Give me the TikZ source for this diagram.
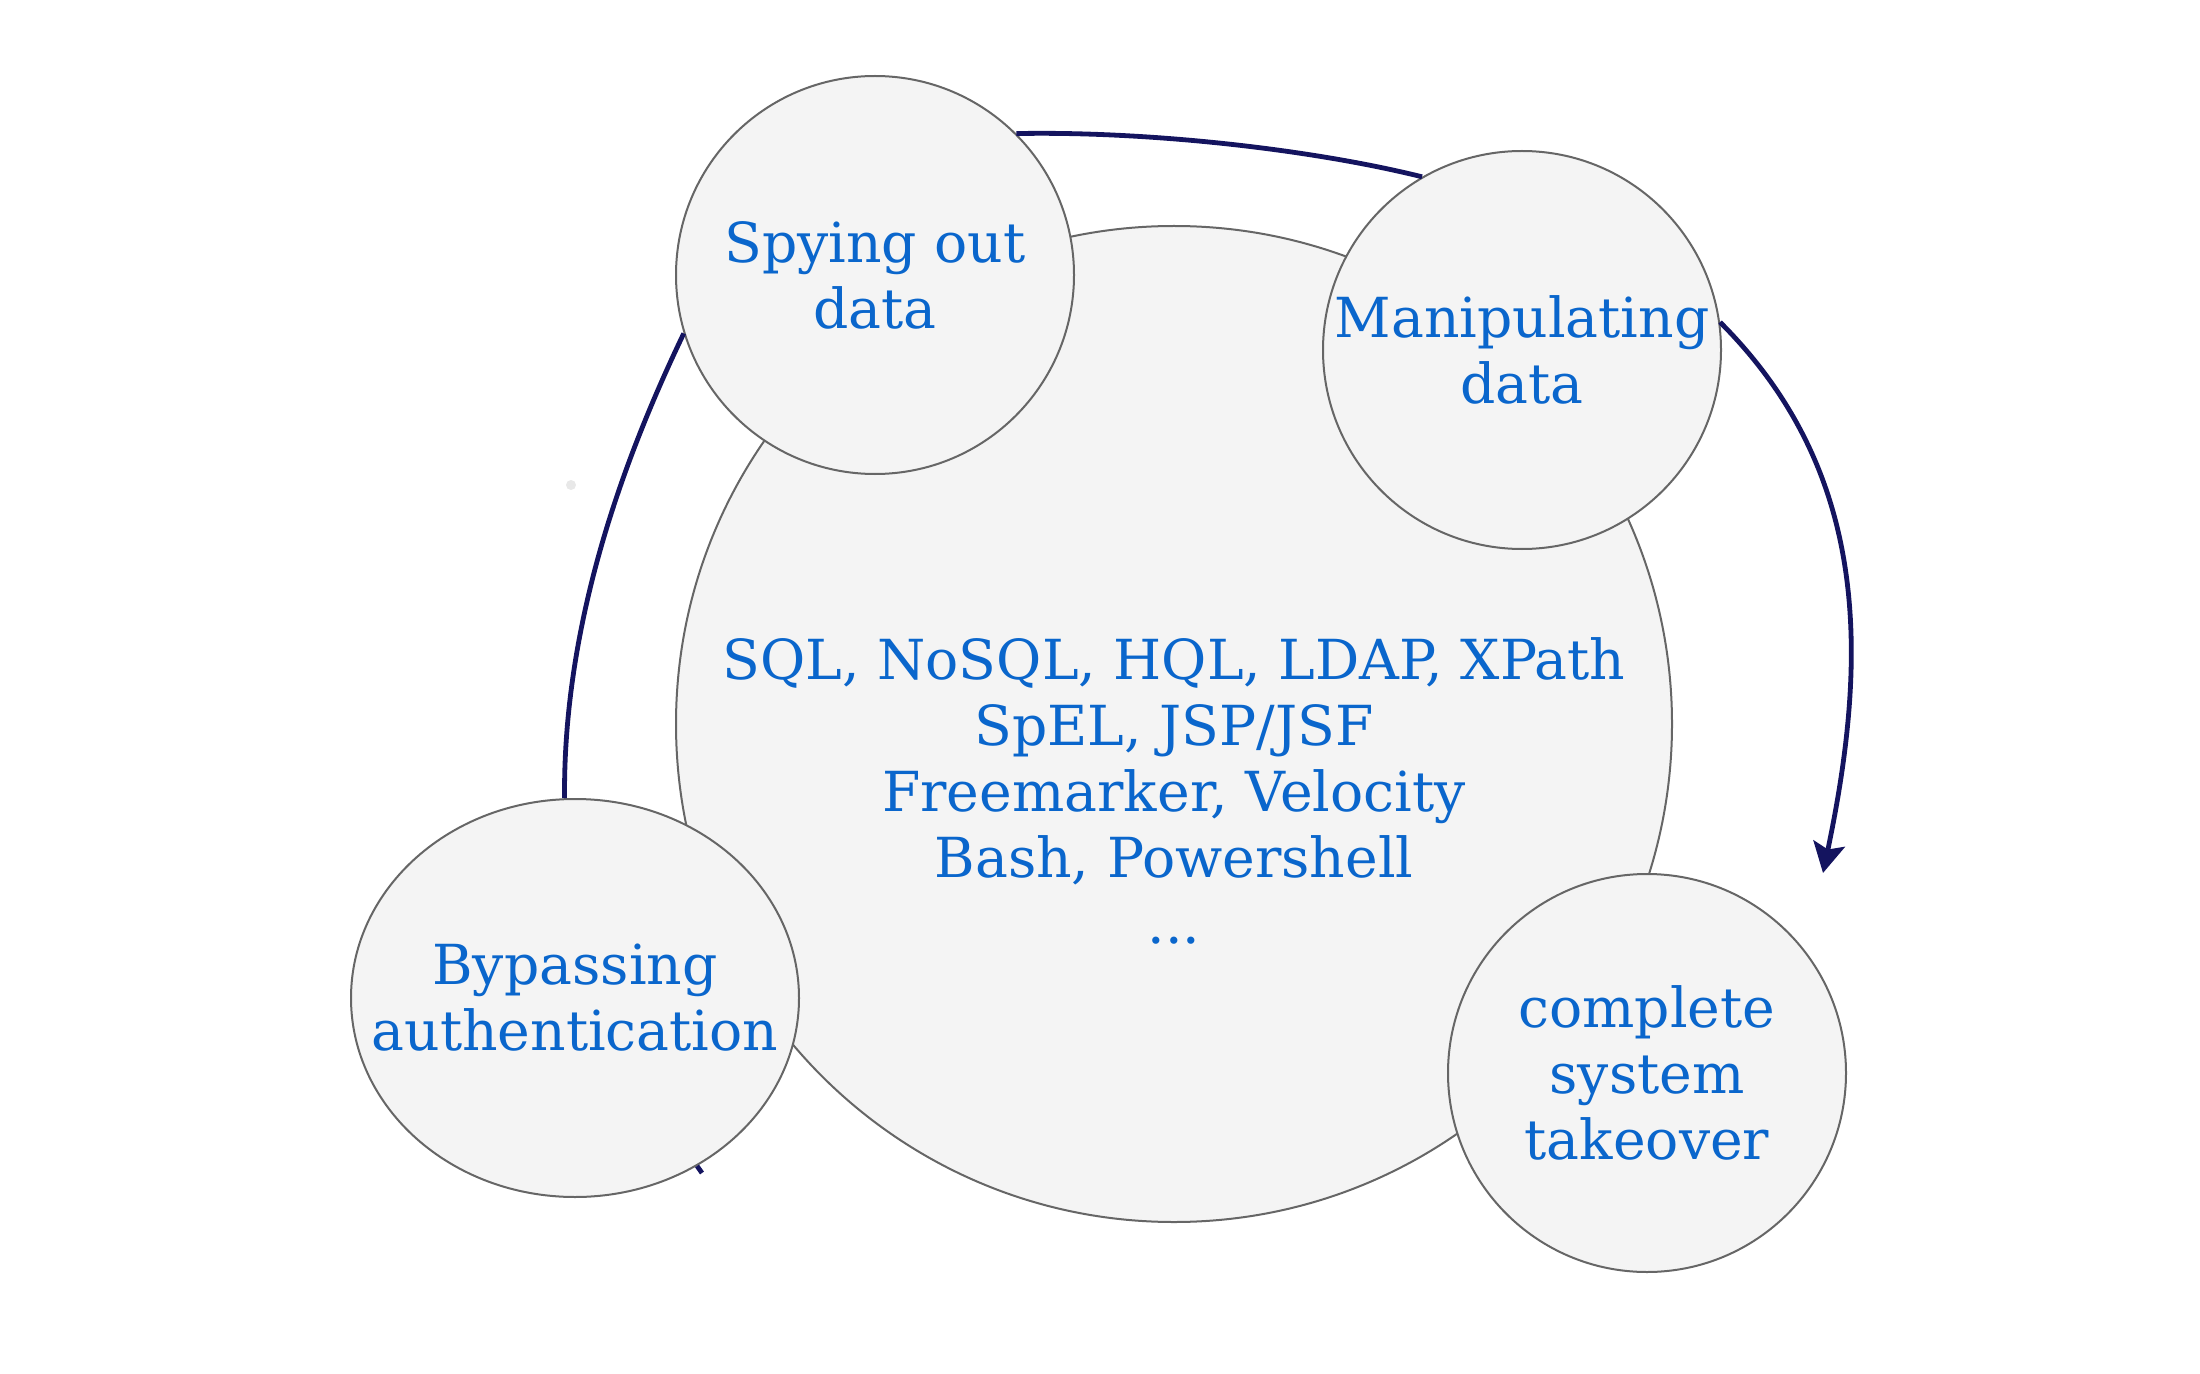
\documentclass[tikz,border=0pt]{standalone}
\usepackage{fontspec}
\setmainfont{DejaVu Serif}
\usetikzlibrary{arrows.meta}
\usetikzlibrary{shapes.geometric}
\definecolor{bubblefill}{HTML}{F4F4F4}
\definecolor{bubbleline}{HTML}{666666}
\definecolor{labelblue}{HTML}{0A66CC}
\definecolor{linknavy}{HTML}{14145F}
\tikzset{
    bubbletext/.style={
        align=center, text=labelblue, font=\fontsize{27.6}{33}\selectfont
    },
    bubble/.style={
        circle, draw=bubbleline, fill=bubblefill, line width=1pt,
        minimum size=199pt, inner sep=0pt, bubbletext
    },
    link/.style={
        draw=linknavy, line width=2.4pt
    }
}

\begin{document}
\begin{tikzpicture}[x=0.5pt, y=-0.5pt]
	\useasboundingbox (0,0) rectangle (2200,1374);
	
	\fill[black!9] (571,485) circle (5);
	
	\node[bubble, minimum size=498pt] (core) at (1174,724) {};
	\node[bubbletext] (langs) at (1174,791)
		{SQL, NoSQL, HQL, LDAP, XPath\\SpEL, JSP/JSF\\Freemarker, Velocity\\Bash, Powershell\\...};
	
	\node[bubble] (spy) at (875,275) {Spying out\\data};
	\node[bubble] (manip) at (1522,350) {Manipulating\\data};
	\node[bubble] (takeover) at (1647,1073) {complete\\system\\takeover};
	\node[bubble, ellipse, minimum width=224pt, minimum height=199pt,
		label={[bubbletext]center:{Bypassing\\authentication}}] (bypass) at (575,998) {};
	
	\coordinate (tip) at (1823,873);
	\coordinate (stub) at (702,1173);
	
	\draw[link] (spy.45) .. controls (1147,131) and (1310,149) .. (manip.120);
	\draw[link, -{Stealth[length=15pt, width=16pt, inset=3pt]}] (manip.8) .. controls (1871,473) and (1868,658) .. (tip);
	\draw[link] (bypass.93) .. controls (563,618) and (627,452) .. (spy.197);
	\draw[link] (bypass.-54) -- (stub);
	
\end{tikzpicture}
\end{document}
